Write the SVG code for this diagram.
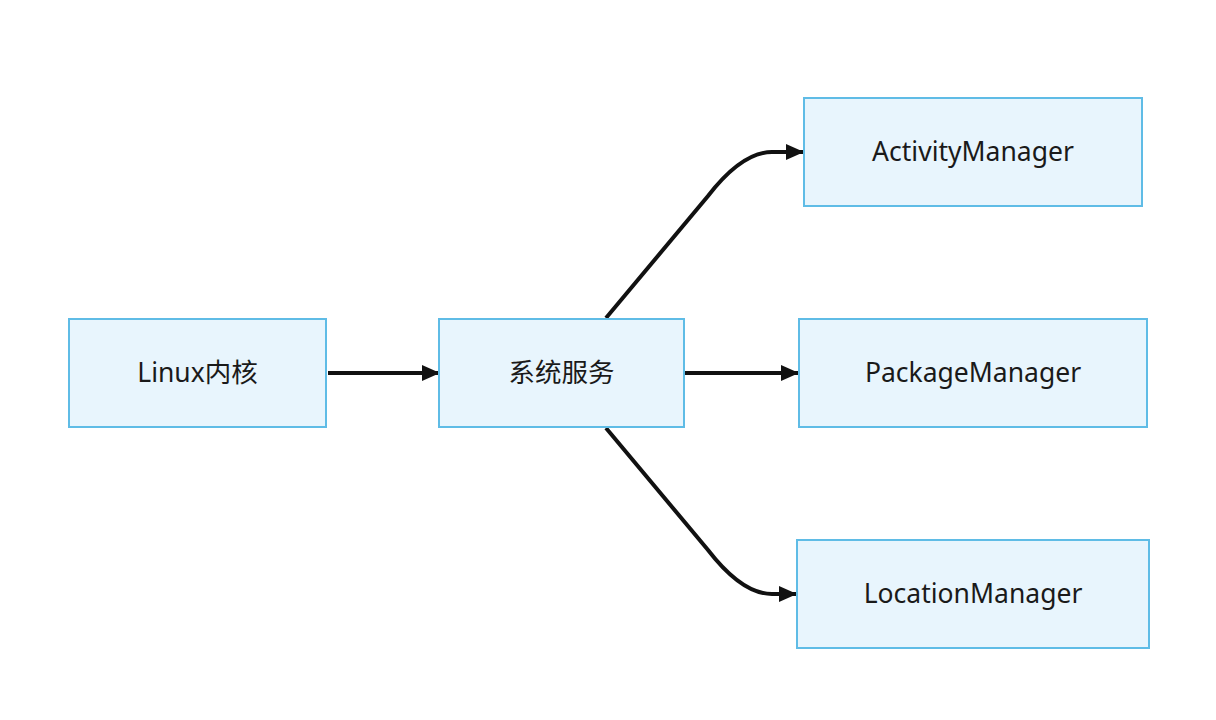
<svg xmlns="http://www.w3.org/2000/svg" width="1216" height="720" viewBox="0 0 1216 720">
<style>
.node rect{fill:#e8f5fd;stroke:#5fbce6;stroke-width:2}
.node text{font-family:"Noto Sans","Noto Sans CJK SC",sans-serif;font-size:26.5px;fill:#1a1a1a;text-anchor:middle}
.edge{fill:none;stroke:#111;stroke-width:4}
</style>
<defs>
<marker id="arr" viewBox="0 0 10 10" refX="10" refY="5" markerUnits="userSpaceOnUse" markerWidth="18" markerHeight="18" orient="auto">
<path d="M0,0.5 L10,5 L0,9.5 Z" fill="#111"/>
</marker>
</defs>
<rect width="1216" height="720" fill="#fff"/>
<g id="connectors">
<path class="edge" d="M328,373 L440,373" marker-end="url(#arr)"/>
<path class="edge" d="M685,373 L799,373" marker-end="url(#arr)"/>
<path class="edge" d="M606,318 L708,196 Q742,152 772,152 L804,152" marker-end="url(#arr)"/>
<path class="edge" d="M606,428 L708,550 Q742,594 772,594 L797,594" marker-end="url(#arr)"/>
</g>
<g id="linux" class="node"><rect x="69" y="319" width="257" height="108"/><text x="197.5" y="382">Linux内核</text></g>
<g id="sys" class="node"><rect x="439" y="319" width="245" height="108"/><text x="561.5" y="382">系统服务</text></g>
<g id="activity" class="node"><rect x="804" y="98" width="338" height="108"/><text x="973" y="161">ActivityManager</text></g>
<g id="package" class="node"><rect x="799" y="319" width="348" height="108"/><text x="973" y="382">PackageManager</text></g>
<g id="location" class="node"><rect x="797" y="540" width="352" height="108"/><text x="973" y="603">LocationManager</text></g>
</svg>
